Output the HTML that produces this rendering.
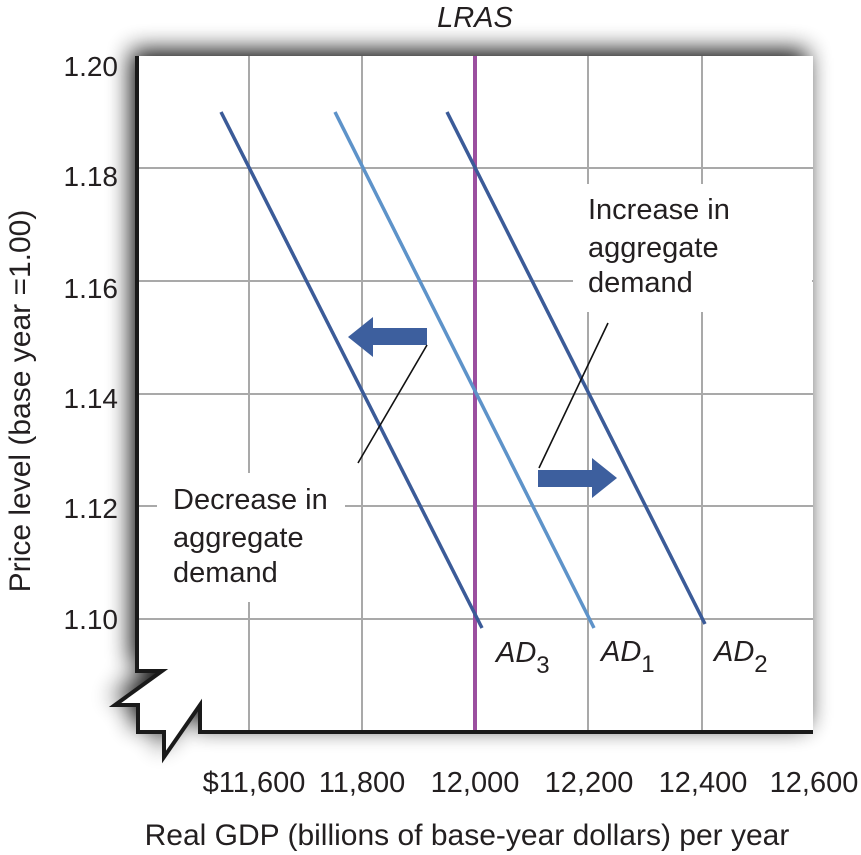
<!DOCTYPE html>
<html>
<head>
<meta charset="utf-8">
<style>
  html, body { margin: 0; padding: 0; background: #ffffff; }
  svg { display: block; }
  text { font-family: "Liberation Sans", sans-serif; fill: #231f20; }
</style>
</head>
<body>
<svg width="861" height="855" viewBox="0 0 861 855" xmlns="http://www.w3.org/2000/svg">
  <defs>
    <filter id="sh" x="-20%" y="-20%" width="140%" height="140%">
      <feGaussianBlur in="SourceAlpha" stdDeviation="12"/>
      <feOffset dx="-6" dy="-6" result="b"/>
      <feComponentTransfer>
        <feFuncA type="linear" slope="0.95"/>
      </feComponentTransfer>
      <feMerge>
        <feMergeNode/>
        <feMergeNode in="SourceGraphic"/>
      </feMerge>
    </filter>
    <clipPath id="plot">
      <rect x="137" y="56" width="676" height="676"/>
    </clipPath>
  </defs>

  <!-- plot area with shadow -->
  <path d="M137,56 H813 V732 H200 V705 L164,757 V732 H138 V705 H115 L162,671 H137 Z" fill="#ffffff" filter="url(#sh)"/>

  <!-- grid -->
  <g clip-path="url(#plot)" stroke="#a9a9a9" stroke-width="2">
    <line x1="137" y1="168" x2="813" y2="168"/>
    <line x1="137" y1="281" x2="813" y2="281"/>
    <line x1="137" y1="394" x2="813" y2="394"/>
    <line x1="137" y1="506" x2="813" y2="506"/>
    <line x1="137" y1="619" x2="813" y2="619"/>
    <line x1="249" y1="56" x2="249" y2="732"/>
    <line x1="362" y1="56" x2="362" y2="732"/>
    <line x1="588" y1="56" x2="588" y2="732"/>
    <line x1="702" y1="56" x2="702" y2="732"/>
  </g>

  <!-- white label backgrounds -->
  <rect x="573" y="184" width="239" height="128" fill="#ffffff"/>
  <rect x="157" y="473" width="188" height="129" fill="#ffffff"/>

  <!-- LRAS -->
  <line x1="475" y1="56" x2="475" y2="732" stroke="#9b4f9f" stroke-width="4"/>

  <!-- AD curves -->
  <line x1="221" y1="112" x2="482" y2="628" stroke="#3b5b98" stroke-width="3.5"/>
  <line x1="335" y1="112" x2="594" y2="628" stroke="#5e93c9" stroke-width="3.5"/>
  <line x1="447" y1="112" x2="705" y2="624" stroke="#3b5b98" stroke-width="3.5"/>

  <!-- arrows -->
  <polygon points="427,328 373,328 373,317 348,337 373,357 373,345 427,345" fill="#3d5f9e"/>
  <polygon points="538,470 592,470 592,458 617,478 592,498 592,487 538,487" fill="#3d5f9e"/>

  <!-- leader lines -->
  <line x1="427" y1="345" x2="358" y2="463" stroke="#111" stroke-width="1.6"/>
  <line x1="539" y1="468" x2="608" y2="323" stroke="#111" stroke-width="1.6"/>

  <!-- axes frame -->
  <path d="M137,56 V671 H162 L115,705 H138 V732 H164 V757 L200,705 V732 H813" fill="none" stroke="#1a1a1a" stroke-width="4" stroke-linejoin="miter"/>

  <!-- annotation text -->
  <g font-size="29">
    <text x="588" y="219">Increase in</text>
    <text x="588" y="257">aggregate</text>
    <text x="588" y="292">demand</text>
    <text x="173" y="509">Decrease in</text>
    <text x="173" y="547">aggregate</text>
    <text x="173" y="582">demand</text>
  </g>

  <!-- LRAS label -->
  <text x="475" y="27" font-size="29" font-style="italic" text-anchor="middle">LRAS</text>

  <!-- AD labels -->
  <g font-size="29" font-style="italic">
    <text x="496" y="662">AD<tspan font-style="normal" font-size="24" dy="11">3</tspan></text>
    <text x="601" y="661">AD<tspan font-style="normal" font-size="24" dy="11">1</tspan></text>
    <text x="714" y="661">AD<tspan font-style="normal" font-size="24" dy="11">2</tspan></text>
  </g>

  <!-- Y ticks -->
  <g font-size="28" text-anchor="end">
    <text x="118" y="76">1.20</text>
    <text x="118" y="186">1.18</text>
    <text x="118" y="298">1.16</text>
    <text x="118" y="408">1.14</text>
    <text x="118" y="518">1.12</text>
    <text x="118" y="629">1.10</text>
  </g>

  <!-- X ticks -->
  <g font-size="29" text-anchor="middle">
    <text x="254" y="792">$11,600</text>
    <text x="362" y="792">11,800</text>
    <text x="475" y="792">12,000</text>
    <text x="589" y="792">12,200</text>
    <text x="703" y="792">12,400</text>
    <text x="814" y="792">12,600</text>
  </g>

  <!-- axis titles -->
  <text x="467" y="845" font-size="30" text-anchor="middle">Real GDP (billions of base-year dollars) per year</text>
  <text transform="translate(30,401) rotate(-90)" font-size="30" text-anchor="middle">Price level (base year =1.00)</text>
</svg>
</body>
</html>
